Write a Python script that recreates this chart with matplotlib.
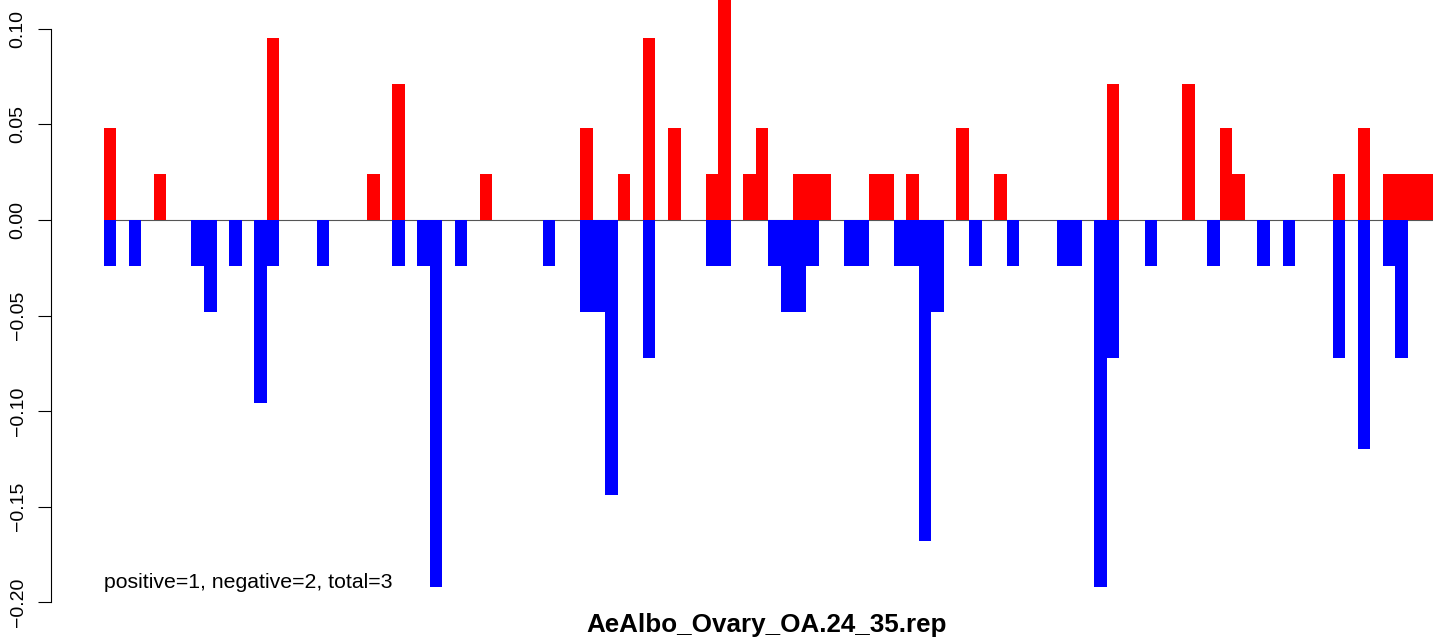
import matplotlib
matplotlib.use("Agg")
import matplotlib.pyplot as plt

plt.rcParams['font.family'] = ['Liberation Sans', 'DejaVu Sans']

# --- data: slot index and bar height ---
pos_slots = [0, 4, 13, 21, 23, 30, 38, 41, 43, 45, 48, 49, 51, 52, 55, 56, 57,
             61, 62, 64, 68, 71, 80, 86, 89, 90, 98, 100, 102, 103, 104, 105]
pos_vals = [0.048, 0.024, 0.095, 0.024, 0.071, 0.024, 0.048, 0.024, 0.095, 0.048,
            0.024, 0.119, 0.024, 0.048, 0.024, 0.024, 0.024, 0.024, 0.024, 0.024,
            0.048, 0.024, 0.071, 0.071, 0.048, 0.024, 0.024, 0.048, 0.024, 0.024,
            0.024, 0.024]

neg_slots = [0, 2, 7, 8, 10, 12, 13, 17, 23, 25, 26, 28, 35, 38, 39, 40, 43, 48,
             49, 53, 54, 55, 56, 59, 60, 63, 64, 65, 66, 69, 72, 76, 77, 79, 80,
             83, 88, 92, 94, 98, 100, 102, 103]
neg_vals = [-0.024, -0.024, -0.024, -0.048, -0.024, -0.096, -0.024, -0.024, -0.024,
            -0.024, -0.192, -0.024, -0.024, -0.048, -0.048, -0.144, -0.072, -0.024,
            -0.024, -0.024, -0.048, -0.048, -0.024, -0.024, -0.024, -0.024, -0.024,
            -0.168, -0.048, -0.024, -0.024, -0.024, -0.024, -0.192, -0.072, -0.024,
            -0.024, -0.024, -0.024, -0.072, -0.120, -0.024, -0.072]

n_slots = 106
y_ticks = [-0.20, -0.15, -0.10, -0.05, 0.00, 0.05, 0.10]
title = "AeAlbo_Ovary_OA.24_35.rep"
note = "positive=1, negative=2, total=3"

W, H = 1441, 637
fig = plt.figure(figsize=(W / 100, H / 100), dpi=100)
left_px, right_px = 103.7, 1433.0
ax = fig.add_axes([left_px / W, 0, (right_px - left_px) / W, 1])

ax.axhline(0, color='#555555', lw=0.8, zorder=0.5)
ax.bar(pos_slots, pos_vals, width=1.0, color='#FF0000', linewidth=0, antialiased=False)
ax.bar(neg_slots, neg_vals, width=1.0, color='#0000FF', linewidth=0, antialiased=False)

ax.set_xlim(-0.5, n_slots - 0.5)
ppu = 1911.0  # pixels per unit on y
ax.set_ylim(-(H - 220) / ppu, 220 / ppu)

for s in ['top', 'right', 'bottom']:
    ax.spines[s].set_visible(False)
ax.spines['left'].set_position(('outward', (left_px - 50.7) * 0.72))
ax.spines['left'].set_bounds(-0.2, 0.1)
ax.spines['left'].set_linewidth(0.8)

ax.set_xticks([])
ax.set_yticks(y_ticks)
ax.set_yticklabels([f"{v:.2f}".replace('-', '\u2212') for v in y_ticks])
ax.tick_params(axis='y', length=13 * 0.72, width=0.8, labelsize=14, pad=8, labelrotation=90)
for lbl in ax.get_yticklabels():
    lbl.set_va('center')

fig.text(left_px / W, (H - 588.3) / H, note, fontsize=15.3, ha='left', va='baseline')
fig.text(766.7 / W, (H - 632) / H, title, fontsize=18.7, fontweight='bold',
         ha='center', va='baseline')

fig.savefig('out.png', dpi=100)
